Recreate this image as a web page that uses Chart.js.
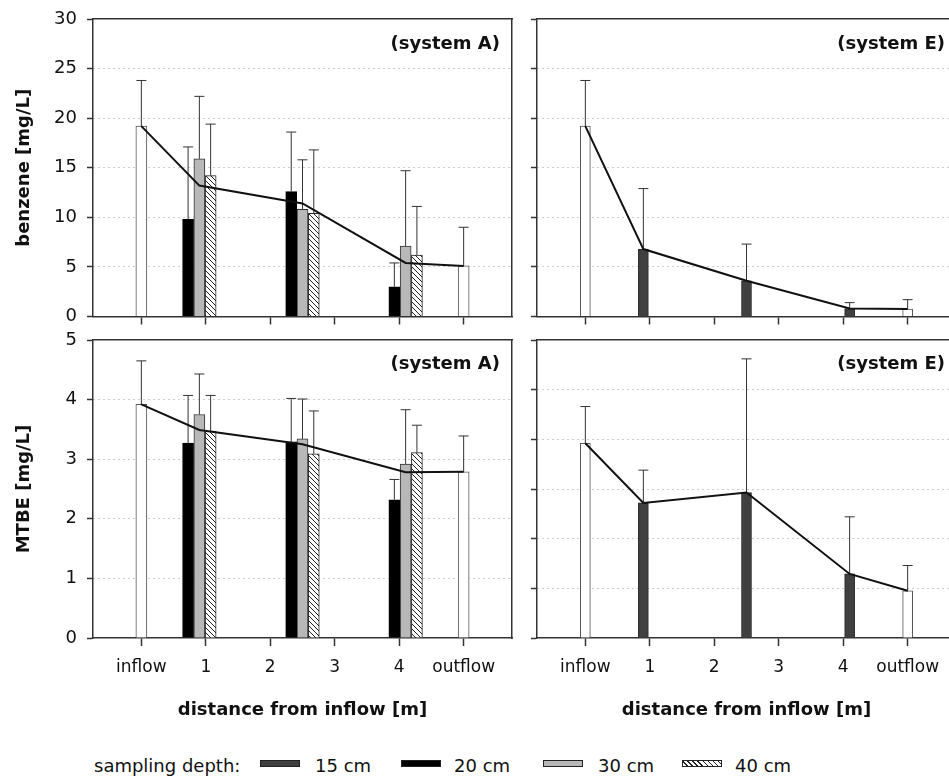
<!DOCTYPE html>
<html><head><meta charset="utf-8">
<script src="https://cdn.jsdelivr.net/npm/chart.js@4.4.0/dist/chart.umd.min.js"></script>
<style>
html,body{margin:0;padding:0;background:#fff;}
#wrap{position:relative;width:949px;height:776px;overflow:hidden;background:#fff;font-family:'DejaVu Sans',sans-serif;color:#111;}
canvas{position:absolute;}
.sys{position:absolute;width:200px;text-align:right;font-weight:bold;font-size:18px;line-height:22px;}
.lg{position:absolute;font-size:18px;line-height:22px;top:755px;white-space:nowrap;}
.sw{position:absolute;top:760px;width:38px;height:5px;border:1px solid #222;}
</style></head>
<body><div id="wrap">
<canvas id="tl" width="520" height="330" style="left:0;top:0"></canvas>
<canvas id="tr" width="440" height="330" style="left:520px;top:0"></canvas>
<canvas id="bl" width="520" height="420" style="left:0;top:322px"></canvas>
<canvas id="br" width="440" height="420" style="left:520px;top:322px"></canvas>
<div class="sys" style="left:300px;top:32px">(system A)</div>
<div class="sys" style="left:745px;top:32px">(system E)</div>
<div class="sys" style="left:300px;top:352px">(system A)</div>
<div class="sys" style="left:745px;top:352px">(system E)</div>
<div id="legend"></div>
</div>
<script>
// ---------- data ----------
const xTickValues = [0, 1, 2, 3, 4, 5];
const xTickLabels = ['inflow', '1', '2', '3', '4', 'outflow'];
const endPoints = [0, 5];              // inflow, outflow
const samplePoints = [0.9, 2.5, 4.1];  // sampling locations
const meanX = [0, 0.9, 2.5, 4.1, 5];
const depthLabels = ['15 cm', '20 cm', '30 cm', '40 cm'];
const legendTitle = 'sampling depth:';
const xTitle = 'distance from inflow [m]';

// benzene, system A
const benzA_end = [19.2, 5.1];
const benzA_endSD = [4.6, 3.9];
const benzA_20 = [9.8, 12.6, 3.0];
const benzA_20SD = [7.3, 6.0, 2.4];
const benzA_30 = [15.9, 10.8, 7.1];
const benzA_30SD = [6.3, 5.0, 7.6];
const benzA_40 = [14.2, 10.4, 6.2];
const benzA_40SD = [5.2, 6.4, 4.9];
const benzA_mean = [19.2, 13.2, 11.4, 5.4, 5.1];

// benzene, system E
const benzE_end = [19.2, 0.75];
const benzE_endSD = [4.6, 0.95];
const benzE_15 = [6.8, 3.6, 0.8];
const benzE_15SD = [6.1, 3.7, 0.6];
const benzE_mean = [19.2, 6.8, 3.6, 0.8, 0.75];

// MTBE, system A
const mtbeA_end = [3.92, 2.79];
const mtbeA_endSD = [0.73, 0.60];
const mtbeA_20 = [3.27, 3.29, 2.32];
const mtbeA_20SD = [0.80, 0.73, 0.34];
const mtbeA_30 = [3.75, 3.34, 2.92];
const mtbeA_30SD = [0.68, 0.67, 0.91];
const mtbeA_40 = [3.47, 3.09, 3.11];
const mtbeA_40SD = [0.60, 0.72, 0.46];
const mtbeA_mean = [3.92, 3.49, 3.25, 2.78, 2.79];

// MTBE, system E
const mtbeE_end = [3.92, 0.95];
const mtbeE_endSD = [0.74, 0.51];
const mtbeE_15 = [2.72, 2.93, 1.29];
const mtbeE_15SD = [0.66, 2.69, 1.15];
const mtbeE_mean = [3.92, 2.72, 2.93, 1.29, 0.95];

// ---------- styling ----------
const F = 'DejaVu Sans';
Chart.defaults.font.family = F;
Chart.defaults.color = '#111';
function hatch() {
  const c = document.createElement('canvas'); c.width = 5; c.height = 5;
  const g = c.getContext('2d');
  g.fillStyle = '#fff'; g.fillRect(0, 0, 5, 5);
  g.strokeStyle = '#222'; g.lineWidth = 1;
  g.beginPath();
  g.moveTo(-1, -1); g.lineTo(6, 6);
  g.moveTo(-1, 4); g.lineTo(1, 6);
  g.moveTo(4, -1); g.lineTo(6, 1);
  g.stroke();
  return g.createPattern(c, 'repeat');
}
const HATCH = hatch();
const ST = {
  end: {fill: '#ffffff', border: '#555'},
  d15: {fill: '#404040', border: '#222'},
  d20: {fill: '#000000', border: '#000'},
  d30: {fill: '#b8b8b8', border: '#333'},
  d40: {fill: HATCH, border: '#222'}
};
const GAP = 0.175; // offset of 20/40 cm bars from group centre

function barDS(xs, ys, st, w) {
  return {type: 'bar', data: xs.map((x, i) => ({x, y: ys[i]})),
    backgroundColor: st.fill, borderColor: st.border, borderWidth: 1,
    barThickness: w, grouped: false, order: 3};
}
function errDS(xs, ys, sds) {
  const pts = [];
  xs.forEach((x, i) => {
    pts.push({x, y: ys[i]});
    pts.push({x, y: ys[i] + sds[i], cap: true});
    pts.push({x, y: null});
  });
  return {type: 'line', data: pts, borderColor: '#333', borderWidth: 1,
    pointRadius: c => (c.raw && c.raw.cap) ? 5 : 0, pointStyle: 'line',
    pointBorderColor: '#333', pointBorderWidth: 1, pointHoverRadius: 0,
    spanGaps: false, tension: 0, order: 2, fill: false};
}
function meanDS(ys) {
  return {type: 'line', data: meanX.map((x, i) => ({x, y: ys[i]})),
    borderColor: '#111', borderWidth: 2, pointRadius: 0, tension: 0, order: 1, fill: false};
}

function makePanel(id, o) {
  const ds = [];
  o.groups.forEach(g => {
    ds.push(barDS(g.x, g.y, g.st, o.barW));
    ds.push(errDS(g.x, g.y, g.sd));
  });
  ds.push(meanDS(o.mean));
  const yMax = o.yMax;
  new Chart(document.getElementById(id), {
    type: 'bar',
    data: {datasets: ds},
    options: {
      responsive: false, animation: false, events: [],
      layout: {padding: {top: o.padTop, right: o.padRight, bottom: 0, left: 0}},
      plugins: {legend: {display: false}, tooltip: {enabled: false}},
      scales: {
        x: {
          type: 'linear', min: -0.75, max: 5.75, offset: false,
          afterBuildTicks: s => { s.ticks = xTickValues.map(v => ({value: v})); },
          afterFit: s => { s.height = o.xH; s.paddingLeft = 0; s.paddingRight = 0; },
          grid: {drawOnChartArea: false, drawTicks: true, tickLength: 8, tickColor: '#333', tickWidth: 1.5, offset: false},
          border: {display: true, color: '#333', width: 1.5},
          ticks: {display: o.xLabels, autoSkip: false, maxRotation: 0, padding: 11, color: '#111',
            font: {family: F, size: 17}, callback: (v, i) => xTickLabels[i]},
          title: {display: o.xLabels, text: xTitle, color: '#111',
            font: {family: F, size: 18, weight: 'bold'}, padding: {top: 0, bottom: 21}}
        },
        xT: {
          type: 'linear', position: 'top', min: -0.75, max: 5.75,
          afterFit: s => { s.height = 0; s.paddingLeft = 0; s.paddingRight = 0; },
          grid: {display: false}, ticks: {display: false},
          border: {display: true, color: '#333', width: 1.5}
        },
        y: {
          type: 'linear', min: 0, max: yMax,
          ticks: {display: o.yLabels, stepSize: o.yStep, padding: 10, color: '#111', font: {family: F, size: 18}},
          afterFit: s => { s.width = o.yW; s.paddingTop = 0; s.paddingBottom = 0; },
          grid: {drawOnChartArea: true, drawTicks: true, tickLength: 6, tickColor: '#333', tickWidth: 1.5,
            lineWidth: 1,
            color: c => (c.tick && (c.tick.value === 0 || c.tick.value === yMax)) ? 'rgba(0,0,0,0)' : '#999'},
          border: {display: true, color: '#333', width: 1.5, dash: [1, 4]},
          title: {display: o.yLabels, text: o.yTitle, color: '#111',
            font: {family: F, size: 18, weight: 'bold'}, padding: {top: 14, bottom: 0}}
        },
        yR: {
          type: 'linear', position: 'right', min: 0, max: yMax,
          afterFit: s => { s.width = 0; s.paddingTop = 0; s.paddingBottom = 0; },
          grid: {display: false}, ticks: {display: false},
          border: {display: true, color: '#333', width: 1.5}
        }
      }
    }
  });
}

const at = (pts, d) => pts.map(p => +(p + d).toFixed(3));

makePanel('tl', {
  yMax: 30, yStep: 5, yLabels: true, yTitle: 'benzene [mg/L]', xLabels: false,
  padTop: 19, padRight: 8, yW: 93, xH: 13.5, barW: 11, mean: benzA_mean,
  groups: [
    {x: endPoints, y: benzA_end, sd: benzA_endSD, st: ST.end},
    {x: at(samplePoints, -GAP), y: benzA_20, sd: benzA_20SD, st: ST.d20},
    {x: samplePoints, y: benzA_30, sd: benzA_30SD, st: ST.d30},
    {x: at(samplePoints, GAP), y: benzA_40, sd: benzA_40SD, st: ST.d40}
  ]
});
makePanel('tr', {
  yMax: 30, yStep: 5, yLabels: false, yTitle: '', xLabels: false,
  padTop: 19, padRight: 4, yW: 17, xH: 13.5, barW: 10, mean: benzE_mean,
  groups: [
    {x: endPoints, y: benzE_end, sd: benzE_endSD, st: ST.end},
    {x: samplePoints, y: benzE_15, sd: benzE_15SD, st: ST.d15}
  ]
});
makePanel('bl', {
  yMax: 5, yStep: 1, yLabels: true, yTitle: 'MTBE [mg/L]', xLabels: true,
  padTop: 18, padRight: 8, yW: 93, xH: 104, barW: 11, mean: mtbeA_mean,
  groups: [
    {x: endPoints, y: mtbeA_end, sd: mtbeA_endSD, st: ST.end},
    {x: at(samplePoints, -GAP), y: mtbeA_20, sd: mtbeA_20SD, st: ST.d20},
    {x: samplePoints, y: mtbeA_30, sd: mtbeA_30SD, st: ST.d30},
    {x: at(samplePoints, GAP), y: mtbeA_40, sd: mtbeA_40SD, st: ST.d40}
  ]
});
makePanel('br', {
  yMax: 6, yStep: 1, yLabels: false, yTitle: '', xLabels: true,
  padTop: 18, padRight: 4, yW: 17, xH: 104, barW: 10, mean: mtbeE_mean,
  groups: [
    {x: endPoints, y: mtbeE_end, sd: mtbeE_endSD, st: ST.end},
    {x: samplePoints, y: mtbeE_15, sd: mtbeE_15SD, st: ST.d15}
  ]
});

// ---------- legend ----------
const lg = document.getElementById('legend');
const swatchCss = [
  'background:#404040;',
  'background:#000;',
  'background:#b8b8b8;',
  'background:repeating-linear-gradient(45deg,#fff 0 2.6px,#222 2.6px 3.6px);'
];
const swLeft = [260, 401, 543, 682];
const txLeft = [315, 454, 598, 735];
let html = '<span class="lg" style="left:94px">' + legendTitle + '</span>';
depthLabels.forEach((t, i) => {
  html += '<span class="sw" style="left:' + swLeft[i] + 'px;' + swatchCss[i] + '"></span>';
  html += '<span class="lg" style="left:' + txLeft[i] + 'px">' + t + '</span>';
});
lg.innerHTML = html;
</script>
</body></html>
